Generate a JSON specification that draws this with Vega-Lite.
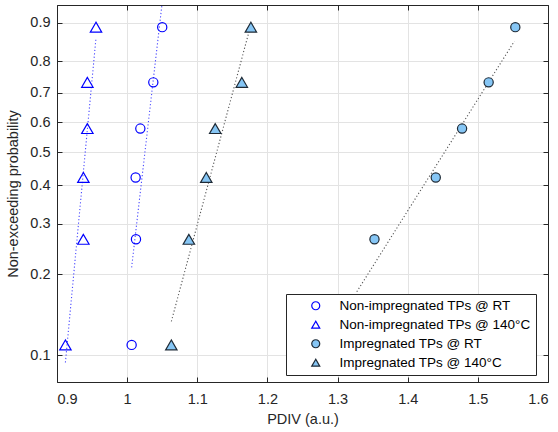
{
  "$schema": "https://vega.github.io/schema/vega-lite/v6.json",
  "width": 491,
  "height": 377,
  "autosize": {"type": "none"},
  "padding": {"left": 57, "top": 5, "right": 10, "bottom": 50},
  "background": "white",
  "config": {
    "font": "Liberation Sans",
    "view": {"stroke": "#262626", "strokeWidth": 1},
    "axis": {
      "labelFont": "Liberation Sans",
      "titleFont": "Liberation Sans",
      "labelFontSize": 14.5,
      "titleFontSize": 14.5,
      "titleFontWeight": "normal",
      "labelColor": "#262626",
      "titleColor": "#262626",
      "domainColor": "#262626",
      "tickColor": "#262626",
      "gridColor": "#e3e3e3",
      "gridWidth": 1
    },
    "legend": {
      "orient": "none",
      "legendX": 229,
      "legendY": 289,
      "fillColor": "white",
      "strokeColor": "#262626",
      "padding": 5,
      "symbolOffset": 18,
      "labelOffset": 17,
      "rowPadding": 4,
      "symbolSize": 64,
      "symbolStrokeWidth": 1.2,
      "labelFont": "Liberation Sans",
      "labelFontSize": 13.5,
      "labelColor": "#000000",
      "labelLimit": 400
    }
  },
  "datasets": {
    "pts": [
      {"series": "Non-impregnated TPs @ RT", "x": 1.0064, "p": 0.109375},
      {"series": "Non-impregnated TPs @ RT", "x": 1.0126, "p": 0.265625},
      {"series": "Non-impregnated TPs @ RT", "x": 1.0121, "p": 0.421875},
      {"series": "Non-impregnated TPs @ RT", "x": 1.0188, "p": 0.578125},
      {"series": "Non-impregnated TPs @ RT", "x": 1.0373, "p": 0.734375},
      {"series": "Non-impregnated TPs @ RT", "x": 1.0500, "p": 0.890625},
      {"series": "Non-impregnated TPs @ 140°C", "x": 0.9120, "p": 0.109375},
      {"series": "Non-impregnated TPs @ 140°C", "x": 0.9376, "p": 0.265625},
      {"series": "Non-impregnated TPs @ 140°C", "x": 0.9376, "p": 0.421875},
      {"series": "Non-impregnated TPs @ 140°C", "x": 0.9433, "p": 0.578125},
      {"series": "Non-impregnated TPs @ 140°C", "x": 0.9433, "p": 0.734375},
      {"series": "Non-impregnated TPs @ 140°C", "x": 0.9556, "p": 0.890625},
      {"series": "Impregnated TPs @ RT", "x": 1.3200, "p": 0.109375},
      {"series": "Impregnated TPs @ RT", "x": 1.3526, "p": 0.265625},
      {"series": "Impregnated TPs @ RT", "x": 1.4400, "p": 0.421875},
      {"series": "Impregnated TPs @ RT", "x": 1.4775, "p": 0.578125},
      {"series": "Impregnated TPs @ RT", "x": 1.5154, "p": 0.734375},
      {"series": "Impregnated TPs @ RT", "x": 1.5534, "p": 0.890625},
      {"series": "Impregnated TPs @ 140°C", "x": 1.0630, "p": 0.109375},
      {"series": "Impregnated TPs @ 140°C", "x": 1.0880, "p": 0.265625},
      {"series": "Impregnated TPs @ 140°C", "x": 1.1128, "p": 0.421875},
      {"series": "Impregnated TPs @ 140°C", "x": 1.1256, "p": 0.578125},
      {"series": "Impregnated TPs @ 140°C", "x": 1.1635, "p": 0.734375},
      {"series": "Impregnated TPs @ 140°C", "x": 1.1764, "p": 0.890625}
    ],
    "fits": [
      {"series": "Non-impregnated TPs @ RT", "x": 1.0064, "p": 0.2117},
      {"series": "Non-impregnated TPs @ RT", "x": 1.0513, "p": 0.95},
      {"series": "Non-impregnated TPs @ 140°C", "x": 0.9120, "p": 0.0937},
      {"series": "Non-impregnated TPs @ 140°C", "x": 0.9556, "p": 0.865},
      {"series": "Impregnated TPs @ RT", "x": 1.3274, "p": 0.1728},
      {"series": "Impregnated TPs @ RT", "x": 1.5520, "p": 0.8564},
      {"series": "Impregnated TPs @ 140°C", "x": 1.0630, "p": 0.1341},
      {"series": "Impregnated TPs @ 140°C", "x": 1.1745, "p": 0.885}
    ]
  },
  "resolve": {"axis": {"x": "independent", "y": "independent"}},
  "layer": [
    {
      "data": {"name": "fits"},
      "transform": [
        {"filter": {"field": "series", "oneOf": ["Non-impregnated TPs @ RT", "Non-impregnated TPs @ 140°C"]}},
        {"calculate": "log(-log(1-datum.p))", "as": "w"}
      ],
      "mark": {"type": "line", "strokeDash": [1.2, 2.2], "strokeWidth": 1.1, "clip": true, "color": "#4a4aff"},
      "encoding": {
        "x": {"field": "x", "type": "quantitative",
              "scale": {"domain": [0.9, 1.6], "nice": false, "zero": false},
              "axis": {"orient": "top", "labels": false, "title": null, "grid": false, "tickSize": -5, "values": [0.9, 1, 1.1, 1.2, 1.3, 1.4, 1.5, 1.6]}},
        "y": {"field": "w", "type": "quantitative",
              "scale": {"domain": [-2.5, 1.0], "nice": false, "zero": false},
              "axis": {"orient": "right", "labels": false, "title": null, "grid": false, "tickSize": -5, "values": [-2.250367, -1.49994, -1.03093, -0.671727, -0.366513, -0.087422, 0.185627, 0.475885, 0.834032]}},
        "detail": {"field": "series"}
      }
    },
    {
      "data": {"name": "fits"},
      "transform": [
        {"filter": {"field": "series", "oneOf": ["Impregnated TPs @ RT", "Impregnated TPs @ 140°C"]}},
        {"calculate": "log(-log(1-datum.p))", "as": "w"}
      ],
      "mark": {"type": "line", "strokeDash": [1.2, 2.2], "strokeWidth": 1.1, "clip": true, "color": "#555555"},
      "encoding": {
        "x": {"field": "x", "type": "quantitative", "axis": null},
        "y": {"field": "w", "type": "quantitative", "axis": null},
        "detail": {"field": "series"}
      }
    },
    {
      "data": {"name": "pts"},
      "transform": [{"calculate": "log(-log(1-datum.p))", "as": "w"}],
      "mark": {"type": "point", "opacity": 1, "fillOpacity": 1, "strokeWidth": 1.2},
      "encoding": {
        "x": {"field": "x", "type": "quantitative",
              "scale": {"domain": [0.9, 1.6], "nice": false, "zero": false},
              "axis": {"orient": "bottom", "title": "PDIV (a.u.)", "grid": true, "tickSize": -5, "labelPadding": 15, "titlePadding": 7,
                       "values": [0.9, 1, 1.1, 1.2, 1.3, 1.4, 1.5, 1.6], "labelExpr": "format(datum.value, '~g')"}},
        "y": {"field": "w", "type": "quantitative",
              "scale": {"domain": [-2.5, 1.0], "nice": false, "zero": false},
              "axis": {"orient": "left", "title": "Non-exceeding probability", "grid": true, "tickSize": -5, "labelPadding": 12, "titlePadding": 9,
                       "values": [-2.250367, -1.49994, -1.03093, -0.671727, -0.366513, -0.087422, 0.185627, 0.475885, 0.834032],
                       "labelExpr": "format(1-exp(-exp(datum.value)), '.1f')"}},
        "shape": {"field": "series", "type": "nominal", "title": null,
                  "scale": {"domain": ["Non-impregnated TPs @ RT", "Non-impregnated TPs @ 140°C", "Impregnated TPs @ RT", "Impregnated TPs @ 140°C"],
                            "range": ["circle", "triangle-up", "circle", "triangle-up"]}},
        "size": {"condition": {"test": "indexof(datum.series, '140') >= 0", "value": 130}, "value": 85},
        "stroke": {"field": "series", "type": "nominal", "title": null,
                   "scale": {"domain": ["Non-impregnated TPs @ RT", "Non-impregnated TPs @ 140°C", "Impregnated TPs @ RT", "Impregnated TPs @ 140°C"],
                             "range": ["#0000ff", "#0000ff", "#1e2a36", "#1e2a36"]}},
        "fill": {"field": "series", "type": "nominal", "title": null,
                 "scale": {"domain": ["Non-impregnated TPs @ RT", "Non-impregnated TPs @ 140°C", "Impregnated TPs @ RT", "Impregnated TPs @ 140°C"],
                           "range": ["transparent", "transparent", "#86c6f5", "#86c6f5"]}}
      }
    }
  ]
}
